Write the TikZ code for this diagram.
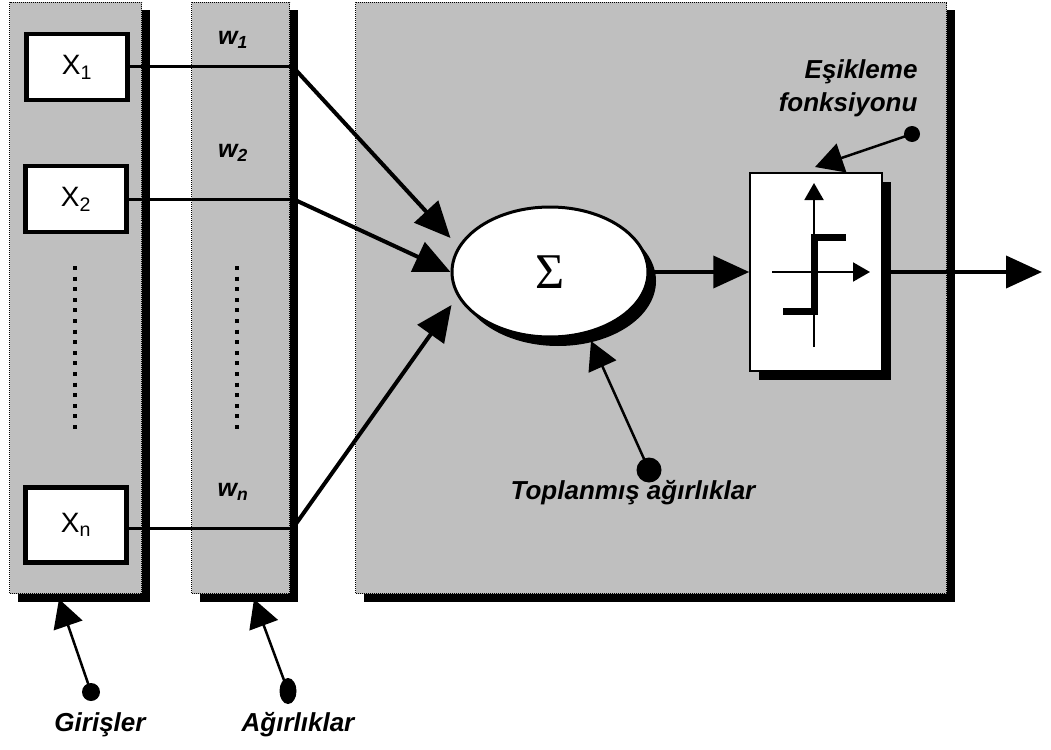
\documentclass[tikz,border=0pt]{standalone}
\usepackage{fontspec}
\setmainfont{Liberation Sans}
\newfontfamily\sigmafont{Liberation Serif}
\usetikzlibrary{arrows.meta, positioning, calc, shadows, shapes.geometric}

\begin{document}
\begin{tikzpicture}[
    x=1pt, y=-1pt,
    % Node styles
    panel/.style={
        rectangle, inner sep=0pt,
        minimum width=#1, minimum height=591pt,
        draw=black, densely dotted, line width=1pt,
        fill=black!25,
        drop shadow={shadow xshift=8pt, shadow yshift=-8pt, fill=black, opacity=1},
    },
    inbox/.style={
        rectangle, inner sep=0pt,
        minimum width=101pt, minimum height=#1,
        draw=black, line width=4.5pt, fill=white,
        font=\fontsize{28}{28}\selectfont,
    },
    inbox/.default=66pt,
    sumnode/.style={
        ellipse, inner sep=0pt,
        minimum width=196pt, minimum height=130pt,
        draw=black, line width=3pt, fill=white,
        font=\fontsize{50}{50}\sigmafont,
        drop shadow={shadow xshift=8pt, shadow yshift=-9pt, fill=black, opacity=1},
    },
    threshbox/.style={
        rectangle, inner sep=0pt,
        minimum width=132pt, minimum height=198pt,
        draw=black, line width=1.5pt, fill=white,
        drop shadow={shadow xshift=9pt, shadow yshift=-9pt, fill=black, opacity=1},
    },
    wlabel/.style={
        font=\fontsize{25}{25}\selectfont\bfseries\itshape,
    },
    note/.style={
        font=\fontsize{26}{33}\selectfont\bfseries\itshape,
    },
    pindot/.style={
        circle, fill=black, inner sep=0pt, minimum size=#1,
    },
    pindot/.default=17pt,
    dotcol/.style={
        draw=black, line width=4pt, dash pattern=on 4pt off 6.6pt,
    },
    wire/.style={
        draw=black, line width=3pt,
    },
    line/.style={
        draw=black, line width=4pt,
        -{Triangle[length=36pt, width=32pt]},
    },
    pin/.style={
        draw=black, line width=2.5pt, shorten <=-3pt,
        -{Triangle[length=28pt, width=30pt]},
    },
    axis/.style={
        draw=black, line width=2pt,
        -{Triangle[length=17pt, width=19pt]},
    },
    stepline/.style={
        draw=black, line width=7pt,
    },
]
\useasboundingbox (0,0) rectangle (1051,749);

% === Panels ===
\node[panel=132pt, anchor=north west] (inpanel) at (9,2) {};
\node[panel=98pt, right=49pt of inpanel]  (wpanel) {};
\node[panel=591pt, right=65pt of wpanel]  (bigpanel) {};

% === Inputs ===
\node[inbox] (x1) at (77,67)  {X\textsubscript{1}};
\node[inbox] (x2) at (76,199) {X\textsubscript{2}};
\node[inbox=75pt] (xn) at (76,525) {X\textsubscript{n}};

% === Weights ===
\node[wlabel] (w1) at (233,40)  {w\textsubscript{1}};
\node[wlabel] (w2) at (233,153) {w\textsubscript{2}};
\node[wlabel] (wn) at (233,492) {w\textsubscript{n}};

% === Dots between ===
\draw[dotcol] (75,266) -- (75,430);
\draw[dotcol] (237,266) -- (237,430);

% === Sum and threshold ===
\node[sumnode] (sum) at (550,272) {Σ};
\node[threshbox] (thr) at (816,272) {};

\draw[axis] ($(thr.center)+(-2,75)$) -- ($(thr.center)+(-2,-89)$);
\draw[axis] ($(thr.center)+(-44,0)$) -- ($(thr.center)+(54,0)$);
\draw[stepline] ($(thr.center)+(30,-35)$) -- ($(thr.center)+(-2,-35)$)
    -- ($(thr.center)+(-2,39)$) -- ($(thr.center)+(-33,39)$);

% === Edges: inputs to sum ===
\coordinate (j1) at ($(wpanel.east |- x1)+(3,0)$);
\coordinate (j2) at ($(wpanel.east |- x2)+(3,0)$);
\coordinate (jn) at ($(wpanel.east |- xn)+(3,3)$);
\coordinate (t1) at ($(sum.west)+(0,-34)$);
\coordinate (t2) at (sum.west);
\coordinate (tn) at ($(sum.west)+(1,33)$);

\draw[wire] (x1.east) -- (j1);
\draw[wire] (x2.east) -- (j2);
\draw[wire] (xn.east |- jn) -- (jn);
\draw[line] (j1) -- (t1);
\draw[line] (j2) -- (t2);
\draw[line] (jn) -- (tn);

% === Edges: sum to output ===
\coordinate (out) at (1042,272);
\draw[line] (sum.east) -- (thr.west);
\draw[line] (thr.east) -- (out);

% === Annotations ===
\node[note, anchor=east, align=right] (esik) at (921,88) {Eşikleme\\fonksiyonu};
\node[pindot=16pt] (edot) at (912,134) {};
\coordinate (etip) at (815,167);
\draw[pin] (edot) -- (etip);

\node[note] (topl) at (633,493) {Toplanmış ağırlıklar};
\node[pindot=25pt] (tdot) at (649,470) {};
\coordinate (ttip) at (591,341);
\draw[pin] (tdot) -- (ttip);

\node[note] (gir) at (100,725) {Girişler};
\node[pindot=18pt] (gdot) at (91,692) {};
\coordinate (gtip) at (59,599);
\draw[pin] (gdot) -- (gtip);

\node[note] (agir) at (298,725) {Ağırlıklar};
\node[pindot, ellipse, minimum width=17pt, minimum height=26pt] (adot) at (288,691) {};
\coordinate (atip) at (254,599);
\draw[pin] (adot) -- (atip);

\end{tikzpicture}
\end{document}
